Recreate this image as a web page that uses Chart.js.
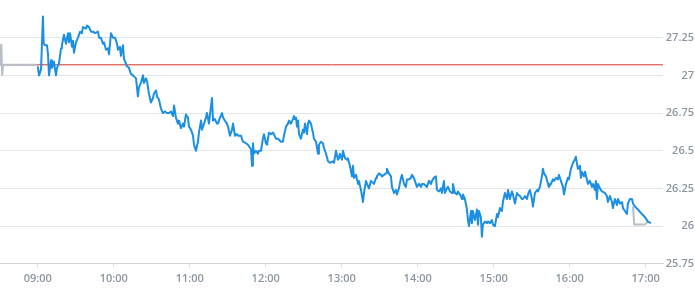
<!DOCTYPE html>
<html>
<head>
<meta charset="utf-8">
<script src="https://cdn.jsdelivr.net/npm/chart.js@4/dist/chart.umd.min.js"></script>
<style>
  html, body { margin: 0; padding: 0; background: #ffffff; }
  #wrap { width: 695px; height: 300px; position: relative; }
</style>
</head>
<body>
<div id="wrap"><canvas id="c"></canvas></div>
<script>
// Time is minutes since midnight; price in currency units.
const hourTicks  = [540, 600, 660, 720, 780, 840, 900, 960, 1020];
const hourLabels = ['09:00', '10:00', '11:00', '12:00', '13:00', '14:00', '15:00', '16:00', '17:00'];
const priceTicks = [25.75, 26, 26.25, 26.5, 26.75, 27, 27.25];
const previousClose = 27.07;

const preMarket = [[510.2, 27.07], [511.2, 27.21], [511.9, 27.00], [512.6, 27.07], [539.5, 27.07]];
const postMarket = [[1010.0, 26.13], [1011.0, 26.01], [1019.4, 26.01], [1021.8, 26.03]];

const session = [
  [540.0, 27.06], [541.0, 27.00], [542.6, 27.04], [544.1, 27.39], [544.7, 27.21], [545.7, 27.20],
  [547.3, 27.20], [548.1, 27.14], [548.9, 27.00], [550.5, 27.10], [551.2, 27.05], [552.8, 27.09],
  [554.4, 27.00], [555.2, 27.05], [556.8, 27.08], [558.4, 27.18], [559.1, 27.20], [560.7, 27.27],
  [562.3, 27.21], [563.9, 27.28], [564.7, 27.22], [565.5, 27.28], [567.0, 27.19], [567.8, 27.23],
  [568.6, 27.15], [570.2, 27.22], [571.8, 27.25], [573.4, 27.29], [574.9, 27.28], [575.7, 27.32],
  [578.1, 27.31], [578.9, 27.33], [580.5, 27.32], [582.0, 27.29], [583.6, 27.29], [585.2, 27.28],
  [587.6, 27.29], [588.4, 27.25], [589.9, 27.25], [591.5, 27.21], [592.3, 27.22], [593.9, 27.17],
  [595.5, 27.18], [596.3, 27.14], [597.8, 27.28], [599.4, 27.25], [601.0, 27.25], [602.6, 27.21],
  [603.4, 27.17], [604.9, 27.19], [605.7, 27.13], [607.3, 27.20], [608.1, 27.11], [610.5, 27.06],
  [612.0, 27.05], [613.6, 27.01], [615.2, 27.00], [617.6, 26.98], [619.1, 26.86], [619.9, 26.92],
  [621.5, 26.95], [623.1, 27.00], [623.9, 26.95], [625.5, 26.98], [626.3, 26.96], [627.8, 26.88],
  [629.4, 26.82], [631.0, 26.85], [631.8, 26.88], [633.4, 26.90], [634.2, 26.86], [635.7, 26.84],
  [637.3, 26.78], [638.9, 26.75], [640.5, 26.76], [642.0, 26.75], [643.6, 26.75], [645.2, 26.76],
  [646.8, 26.73], [647.6, 26.80], [649.1, 26.72], [650.7, 26.68], [651.5, 26.70], [653.1, 26.65],
  [654.7, 26.68], [655.5, 26.66], [657.0, 26.74], [658.6, 26.72], [659.4, 26.66], [661.0, 26.64],
  [662.6, 26.60], [663.4, 26.54], [664.9, 26.50], [666.5, 26.56], [667.3, 26.62], [668.9, 26.70],
  [669.7, 26.64], [671.3, 26.68], [672.8, 26.72], [673.6, 26.75], [675.2, 26.68], [676.0, 26.74],
  [677.6, 26.85], [678.4, 26.70], [679.9, 26.71], [681.5, 26.68], [682.3, 26.68], [683.9, 26.72],
  [685.5, 26.75], [686.3, 26.72], [687.8, 26.70], [689.4, 26.68], [690.2, 26.66], [691.8, 26.60],
  [693.4, 26.64], [694.2, 26.68], [695.7, 26.60], [697.3, 26.61], [698.1, 26.60], [700.5, 26.60],
  [702.0, 26.56], [704.4, 26.55], [706.0, 26.54], [706.8, 26.53], [708.4, 26.51], [709.2, 26.40],
  [709.9, 26.55], [710.7, 26.48], [712.3, 26.50], [713.9, 26.48], [714.7, 26.50], [716.3, 26.50],
  [717.8, 26.58], [718.6, 26.61], [720.2, 26.55], [721.0, 26.54], [721.8, 26.58], [722.6, 26.62],
  [724.2, 26.61], [725.7, 26.62], [726.5, 26.61], [728.1, 26.58], [729.7, 26.58], [732.0, 26.56],
  [733.6, 26.56], [734.4, 26.60], [736.0, 26.66], [737.6, 26.68], [738.4, 26.70], [739.9, 26.68],
  [741.5, 26.71], [742.3, 26.73], [743.1, 26.71], [743.9, 26.72], [744.7, 26.66], [745.5, 26.70],
  [746.3, 26.61], [747.8, 26.58], [749.4, 26.64], [750.2, 26.62], [751.0, 26.68], [752.6, 26.61],
  [753.4, 26.68], [754.2, 26.70], [755.7, 26.68], [757.3, 26.62], [758.1, 26.58], [759.7, 26.56],
  [761.3, 26.48], [762.0, 26.54], [763.6, 26.56], [765.2, 26.55], [766.0, 26.52], [767.6, 26.48],
  [769.2, 26.43], [770.7, 26.42], [773.1, 26.43], [773.9, 26.42], [775.5, 26.50], [777.0, 26.44],
  [777.8, 26.45], [778.6, 26.48], [780.2, 26.44], [781.0, 26.50], [782.6, 26.45], [784.2, 26.44],
  [784.9, 26.45], [786.5, 26.40], [788.1, 26.33], [788.9, 26.40], [789.7, 26.32], [791.3, 26.34],
  [792.9, 26.28], [793.6, 26.30], [795.2, 26.24], [796.8, 26.16], [797.6, 26.22], [799.2, 26.30],
  [800.0, 26.28], [801.5, 26.25], [803.1, 26.30], [805.5, 26.28], [807.1, 26.32], [807.8, 26.33],
  [809.4, 26.35], [811.0, 26.34], [811.8, 26.33], [813.4, 26.34], [815.0, 26.35], [815.7, 26.38],
  [817.3, 26.35], [818.9, 26.33], [819.7, 26.26], [821.3, 26.22], [822.8, 26.24], [823.6, 26.21],
  [825.2, 26.25], [826.8, 26.32], [827.6, 26.34], [829.2, 26.28], [830.7, 26.26], [831.5, 26.31],
  [833.1, 26.31], [834.7, 26.32], [835.5, 26.34], [837.0, 26.32], [838.6, 26.28], [839.4, 26.26],
  [841.0, 26.28], [842.6, 26.26], [843.4, 26.28], [844.9, 26.28], [847.3, 26.26], [848.9, 26.30],
  [850.5, 26.28], [851.3, 26.30], [852.8, 26.32], [854.4, 26.33], [855.2, 26.24], [856.8, 26.23],
  [858.4, 26.25], [859.2, 26.22], [860.7, 26.30], [861.5, 26.22], [863.1, 26.25], [863.9, 26.26],
  [865.5, 26.23], [867.1, 26.22], [867.8, 26.28], [869.4, 26.22], [871.0, 26.21], [871.8, 26.23],
  [873.4, 26.21], [875.0, 26.18], [875.7, 26.21], [877.3, 26.18], [878.9, 26.11], [879.7, 26.04],
  [880.5, 26.00], [882.1, 26.10], [882.8, 26.02], [883.6, 26.10], [885.2, 26.04], [886.8, 26.11],
  [887.6, 26.01], [888.4, 26.10], [889.9, 26.06], [890.7, 25.93], [891.5, 26.01], [893.1, 26.03],
  [894.7, 26.02], [895.5, 26.03], [897.1, 26.02], [898.6, 26.04], [899.4, 26.01], [901.0, 26.00],
  [902.6, 26.08], [903.4, 26.06], [905.0, 26.12], [906.5, 26.10], [907.3, 26.16], [908.9, 26.22],
  [910.5, 26.18], [911.3, 26.24], [912.8, 26.18], [914.4, 26.23], [915.2, 26.21], [916.8, 26.15],
  [918.4, 26.22], [919.2, 26.21], [920.7, 26.20], [922.3, 26.18], [923.1, 26.18], [924.7, 26.20],
  [926.3, 26.18], [927.1, 26.21], [928.6, 26.24], [930.2, 26.18], [931.0, 26.13], [932.6, 26.22],
  [934.2, 26.24], [935.0, 26.23], [936.5, 26.26], [938.1, 26.33], [938.9, 26.38], [939.7, 26.35],
  [941.3, 26.33], [942.9, 26.28], [943.6, 26.26], [945.2, 26.28], [946.8, 26.31], [947.6, 26.30],
  [949.2, 26.32], [950.7, 26.31], [951.5, 26.34], [953.1, 26.30], [954.7, 26.26], [955.5, 26.21],
  [957.1, 26.28], [958.6, 26.32], [959.4, 26.31], [961.0, 26.38], [962.6, 26.42], [963.4, 26.43],
  [964.9, 26.46], [965.7, 26.42], [966.5, 26.38], [968.1, 26.40], [968.9, 26.32], [969.7, 26.36],
  [971.3, 26.33], [972.1, 26.36], [973.6, 26.31], [974.4, 26.28], [976.0, 26.30], [977.6, 26.26],
  [978.4, 26.28], [980.0, 26.24], [980.7, 26.30], [981.5, 26.18], [982.3, 26.28], [983.9, 26.25],
  [985.5, 26.23], [987.8, 26.22], [989.4, 26.20], [990.2, 26.16], [991.8, 26.20], [993.4, 26.16],
  [994.2, 26.12], [995.7, 26.18], [997.3, 26.14], [998.1, 26.18], [999.7, 26.15], [1001.3, 26.16],
  [1002.1, 26.12], [1003.6, 26.10], [1005.2, 26.08], [1006.0, 26.15], [1007.6, 26.18], [1009.2, 26.18],
  [1010.0, 26.15], [1011.5, 26.13], [1013.9, 26.11], [1017.1, 26.08], [1019.4, 26.06], [1021.8, 26.03],
  [1024.2, 26.02]
];

const xMin = 510.2, xMax = 1033.7, yMin = 25.75, yMax = 27.5;

const toPts = arr => arr.map(([x, y]) => ({ x, y }));

const tickFont = { family: "'Open Sans', sans-serif", size: 11, weight: '600' };
const tickColor = '#8b96a2';

new Chart(document.getElementById('c'), {
  type: 'line',
  data: {
    datasets: [
      { data: toPts(session), borderColor: '#1a8fe3', borderWidth: 2, pointRadius: 0, tension: 0, borderJoinStyle: 'round' },
      { data: toPts(postMarket), borderColor: '#b6bec6', borderWidth: 2, pointRadius: 0, tension: 0 },
      { data: toPts(preMarket), borderColor: '#b6bec6', borderWidth: 2, pointRadius: 0, tension: 0 },
      { data: [{ x: xMin, y: previousClose }, { x: xMax, y: previousClose }], borderColor: '#d2322d', borderWidth: 1, pointRadius: 0, tension: 0 }
    ]
  },
  options: {
    responsive: true,
    maintainAspectRatio: false,
    animation: false,
    events: [],
    layout: { padding: { top: 0, right: 1, bottom: 11, left: 0 } },
    plugins: { legend: { display: false }, tooltip: { enabled: false } },
    scales: {
      x: {
        type: 'linear',
        min: xMin,
        max: xMax,
        afterBuildTicks: s => { s.ticks = hourTicks.map(v => ({ value: v })); },
        afterFit: s => { s.paddingLeft = 0; s.paddingRight = 0; },
        grid: { drawOnChartArea: false, drawTicks: true, tickLength: 4, color: '#dde1e5' },
        border: { display: true, color: '#cfd4d9', width: 1 },
        ticks: {
          font: tickFont, color: tickColor, padding: 4, maxRotation: 0, autoSkip: false,
          callback: v => hourLabels[hourTicks.indexOf(v)]
        }
      },
      y: {
        type: 'linear',
        position: 'right',
        min: yMin,
        max: yMax,
        afterBuildTicks: s => { s.ticks = priceTicks.map(v => ({ value: v })); },
        afterFit: s => { s.paddingTop = 0; s.paddingBottom = 0; s.width = 31; },
        grid: { drawTicks: false, color: '#e3e6e9' },
        border: { display: false },
        ticks: {
          font: tickFont, color: tickColor, padding: 0, crossAlign: 'far',
          callback: v => String(v)
        }
      }
    }
  }
});
</script>
</body>
</html>
